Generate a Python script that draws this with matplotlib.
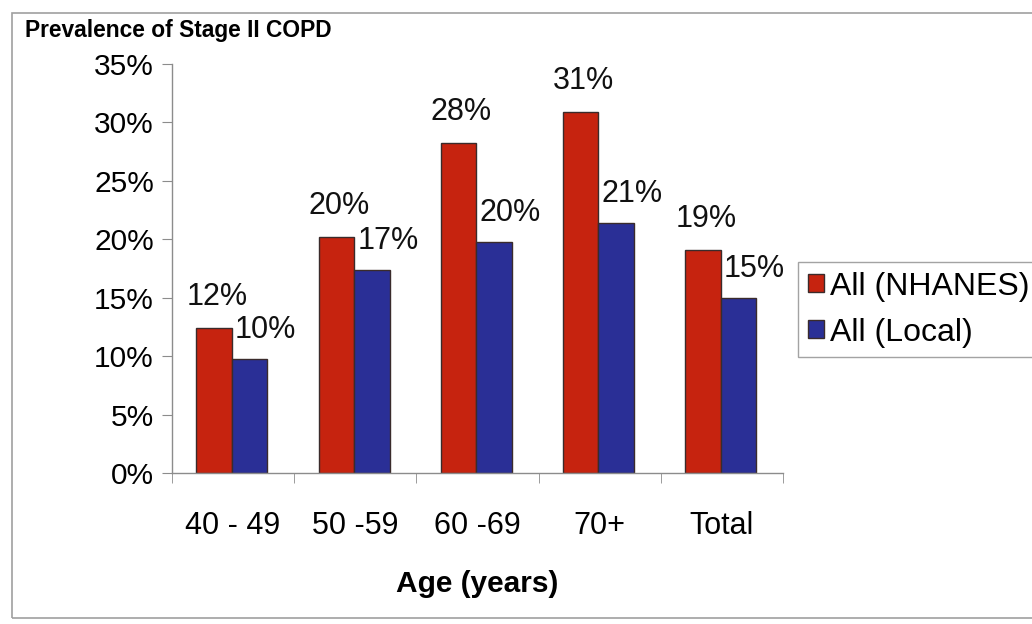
import matplotlib
matplotlib.use('Agg')
import matplotlib.pyplot as plt
import matplotlib.patches as patches
import numpy as np

# dane
age_groups = ['40 - 49', '50 -59', '60 -69', '70+', 'Total']
nhanes = [12.4, 20.2, 28.2, 30.9, 19.1]
local = [9.75, 17.4, 19.8, 21.4, 15.0]
y_ticks = [0, 5, 10, 15, 20, 25, 30, 35]

RED = '#C6230F'
BLUE = '#2A2F96'
EDGE = '#3a2b2b'
AXIS_GREY = '#8c8c8c'

plt.rcParams['font.family'] = ['Liberation Sans', 'DejaVu Sans']


def add_labels(ax, bars, values, dx, dy):
    """Etykiety procentowe nad slupkami (przesuniecie w pikselach)"""
    for bar, v in zip(bars, values):
        x = bar.get_x() + bar.get_width() / 2
        ax.annotate(f'{v:.0f}%', (x, bar.get_height()), xytext=(dx, dy),
                    textcoords='offset pixels', ha='center', va='center',
                    fontsize=22, color='#111111', annotation_clip=False)


fig = plt.figure(figsize=(10.32, 6.24), dpi=100)
ax = fig.add_axes([172 / 1032, 1 - 473 / 624, 611 / 1032, 409 / 624])

x = np.arange(len(age_groups))
width = 0.29
bars_red = ax.bar(x - width / 2 - 0.01, nhanes, width, color=RED, edgecolor=EDGE,
                  linewidth=1, label='All (NHANES)')
bars_blue = ax.bar(x + width / 2 - 0.01, local, width, color=BLUE, edgecolor=EDGE,
                   linewidth=1, label='All (Local)')

add_labels(ax, bars_red, nhanes, 3, 31)
add_labels(ax, bars_blue, local, 16, 29)

# osie
ax.set_xlim(-0.5, len(age_groups) - 0.5)
ax.set_ylim(0, 35)
ax.set_yticks(y_ticks)
ax.set_yticklabels([f'{t}%' for t in y_ticks], fontsize=21.5)
ax.set_xticks(x)
ax.set_xticklabels(age_groups, fontsize=22)
ax.set_xticks(np.arange(-0.5, len(age_groups)), minor=True)
ax.tick_params(axis='x', which='major', length=0, pad=27)
ax.tick_params(axis='x', which='minor', length=7, color=AXIS_GREY, direction='out')
ax.tick_params(axis='y', length=7, color=AXIS_GREY, direction='out', pad=6)

for side in ['top', 'right']:
    ax.spines[side].set_visible(False)
for side in ['left', 'bottom']:
    ax.spines[side].set_color(AXIS_GREY)
    ax.spines[side].set_linewidth(1)

ax.set_xlabel('Age (years)', fontsize=21.5, fontweight='bold', labelpad=21)

# tytul
fig.text(25 / 1032, 1 - 30 / 624, 'Prevalence of Stage II COPD', fontsize=16.4,
         fontweight='bold', ha='left', va='center')

# legenda
leg = ax.legend(loc='upper left', bbox_to_anchor=(798 / 1032, 1 - 262 / 624),
                bbox_transform=fig.transFigure, fontsize=23, frameon=True,
                fancybox=False, edgecolor=AXIS_GREY, handlelength=0.5,
                handleheight=0.5, handletextpad=0.2, labelspacing=0.5,
                borderpad=0.3, borderaxespad=0)
leg.get_frame().set_linewidth(1)

# ramka calego obszaru wykresu
fig.add_artist(patches.Rectangle((12 / 1032, 1 - 618 / 624), 1.05, 605 / 624,
                                 transform=fig.transFigure, fill=False,
                                 edgecolor='#a0a0a0', linewidth=1.2))

plt.savefig('out.png', dpi=100)
plt.close()
